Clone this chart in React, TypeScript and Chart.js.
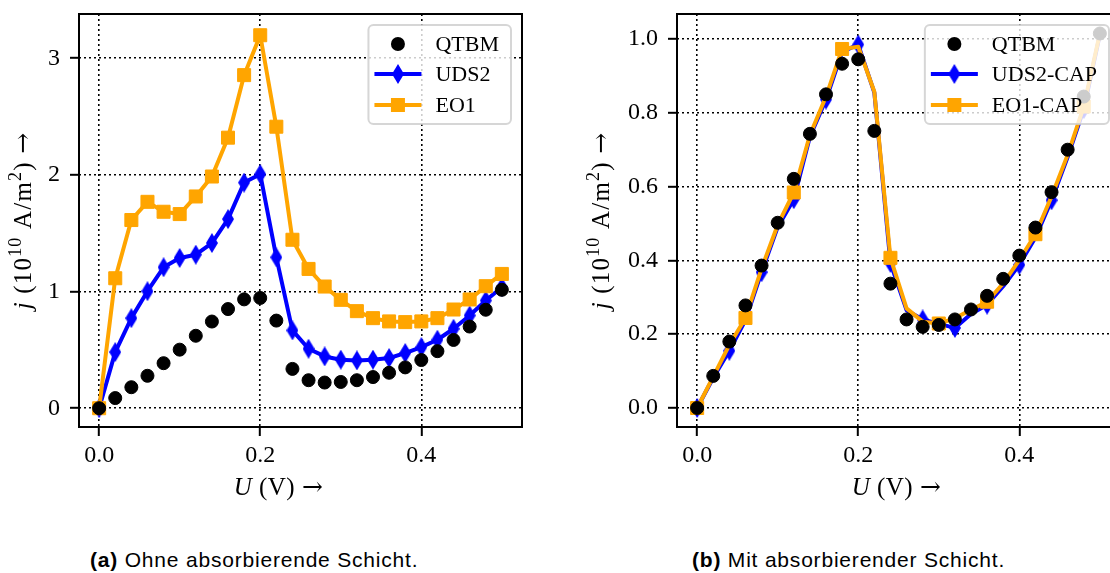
import React, { useEffect, useRef } from 'react';
import { Chart, registerables } from 'chart.js';

Chart.register(...registerables);

// Bias voltage U (V)
const U_V = [0.0, 0.02, 0.04, 0.06, 0.08, 0.1, 0.12, 0.14, 0.16, 0.18, 0.2, 0.22, 0.24, 0.26, 0.28, 0.3, 0.32, 0.34, 0.36, 0.38, 0.4, 0.42, 0.44, 0.46, 0.48, 0.5];

// Current density j (10^10 A/m^2)
const J_QTBM = [0.0, 0.087, 0.18, 0.278, 0.386, 0.502, 0.621, 0.743, 0.85, 0.933, 0.945, 0.751, 0.337, 0.24, 0.22, 0.225, 0.24, 0.267, 0.304, 0.35, 0.413, 0.489, 0.585, 0.7, 0.844, 1.015];
const J_UDS2 = [0.0, 0.481, 0.772, 1.003, 1.208, 1.288, 1.316, 1.416, 1.621, 1.934, 2.006, 1.293, 0.667, 0.51, 0.444, 0.416, 0.41, 0.416, 0.43, 0.473, 0.524, 0.587, 0.681, 0.795, 0.923, 1.037];
const J_EO1 = [0.0, 1.114, 1.613, 1.769, 1.684, 1.664, 1.815, 1.986, 2.319, 2.855, 3.197, 2.413, 1.444, 1.194, 1.043, 0.929, 0.832, 0.772, 0.744, 0.738, 0.744, 0.772, 0.846, 0.932, 1.046, 1.151];
const J_UDS2_CAP = [0.0, 0.082, 0.155, 0.238, 0.368, 0.49, 0.566, 0.735, 0.836, 0.965, 0.985, 0.855, 0.393, 0.265, 0.24, 0.228, 0.217, 0.255, 0.28, 0.33, 0.388, 0.462, 0.563, 0.68, 0.81, 1.012];
const J_EO1_CAP = [0.0, 0.085, 0.171, 0.244, 0.378, 0.496, 0.584, 0.74, 0.844, 0.973, 0.979, 0.857, 0.407, 0.27, 0.234, 0.229, 0.243, 0.266, 0.288, 0.338, 0.401, 0.471, 0.573, 0.686, 0.817, 1.015];

const UDS2_CAP_MARK_EVERY = 2;
const EO1_CAP_MARK_EVERY = 3;

const X_TICKS = [0.0, 0.2, 0.4];
const X_TICK_LABELS = ['0.0', '0.2', '0.4'];
const Y_TICKS_A = [0, 1, 2, 3];
const Y_TICK_LABELS_A = ['0', '1', '2', '3'];
const Y_TICKS_B = [0.0, 0.2, 0.4, 0.6, 0.8, 1.0];
const Y_TICK_LABELS_B = ['0.0', '0.2', '0.4', '0.6', '0.8', '1.0'];

const LEGEND_LABELS_A = ['QTBM', 'UDS2', 'EO1'];
const LEGEND_LABELS_B = ['QTBM', 'UDS2-CAP', 'EO1-CAP'];

type Seg = { t: string; italic?: boolean; sup?: boolean; arrow?: boolean };
const X_TITLE: Seg[] = [{ t: 'U', italic: true }, { t: ' (V) ' }, { t: '→', arrow: true }];
const Y_TITLE: Seg[] = [
  { t: 'j', italic: true },
  { t: ' (10' },
  { t: '10', sup: true },
  { t: ' A/m' },
  { t: '2', sup: true },
  { t: ') ' },
  { t: '→', arrow: true },
];

const CAPTION_A_TAG = '(a)';
const CAPTION_A_TEXT = 'Ohne absorbierende Schicht.';
const CAPTION_B_TAG = '(b)';
const CAPTION_B_TEXT = 'Mit absorbierender Schicht.';

const BLUE = '#0000ff';
const ORANGE = '#ffa500';
const BLACK = '#000000';
const SERIF = '"Liberation Serif", "Times New Roman", serif';
const ARROW_FONT = '"DejaVu Serif", serif';
const SANS = '"Liberation Sans", Arial, sans-serif';

type Marker = 'circle' | 'diamond' | 'square';
type LegendEntry = { label: string; color: string; marker: Marker; line: boolean };

function makeDiamond(color: string) {
  const c = document.createElement('canvas');
  c.width = 12;
  c.height = 20;
  const g = c.getContext('2d')!;
  g.fillStyle = color;
  g.beginPath();
  g.moveTo(6, 0);
  g.lineTo(12, 10);
  g.lineTo(6, 20);
  g.lineTo(0, 10);
  g.closePath();
  g.fill();
  return c;
}

function drawMarker(ctx: CanvasRenderingContext2D, m: Marker, x: number, y: number, color: string, diamond: HTMLCanvasElement) {
  ctx.fillStyle = color;
  if (m === 'circle') {
    ctx.beginPath();
    ctx.arc(x, y, 7, 0, Math.PI * 2);
    ctx.fill();
  } else if (m === 'square') {
    ctx.fillRect(x - 7, y - 7, 14, 14);
  } else {
    ctx.drawImage(diamond, x - diamond.width / 2, y - diamond.height / 2);
  }
}

function segFont(s: Seg, size: number) {
  if (s.arrow) return `${size}px ${ARROW_FONT}`;
  const px = s.sup ? Math.round(size * 0.7) : size;
  return `${s.italic ? 'italic ' : ''}${px}px ${SERIF}`;
}

function setSpacing(ctx: CanvasRenderingContext2D, px: number) {
  (ctx as any).letterSpacing = `${px}px`;
}

function richWidth(ctx: CanvasRenderingContext2D, segs: Seg[], size: number, spacing: number) {
  let w = 0;
  setSpacing(ctx, spacing);
  for (const s of segs) {
    ctx.font = segFont(s, size);
    w += ctx.measureText(s.t).width;
  }
  return w;
}

function drawRich(ctx: CanvasRenderingContext2D, segs: Seg[], cx: number, baseline: number, size: number, spacing: number) {
  const total = richWidth(ctx, segs, size, spacing);
  let x = cx - total / 2;
  ctx.textBaseline = 'alphabetic';
  ctx.textAlign = 'left';
  setSpacing(ctx, spacing);
  for (const s of segs) {
    ctx.font = segFont(s, size);
    ctx.fillText(s.t, x, baseline - (s.sup ? size * 0.4 : 0));
    x += ctx.measureText(s.t).width;
  }
  setSpacing(ctx, 0);
}

function roundRect(ctx: CanvasRenderingContext2D, x: number, y: number, w: number, h: number, r: number) {
  ctx.beginPath();
  ctx.moveTo(x + r, y);
  ctx.lineTo(x + w - r, y);
  ctx.arcTo(x + w, y, x + w, y + r, r);
  ctx.lineTo(x + w, y + h - r);
  ctx.arcTo(x + w, y + h, x + w - r, y + h, r);
  ctx.lineTo(x + r, y + h);
  ctx.arcTo(x, y + h, x, y + h - r, r);
  ctx.lineTo(x, y + r);
  ctx.arcTo(x, y, x + r, y, r);
  ctx.closePath();
}

type Area = { left: number; top: number; right: number; bottom: number };
type PanelSpec = {
  left: number;
  width: number;
  height: number;
  area: Area;
  xRange: [number, number];
  yRange: [number, number];
  yTicks: number[];
  yTickLabels: string[];
  legend: LegendEntry[];
  xTitleShift: number;
  yTitleBaseline: number;
  datasets: (diamond: HTMLCanvasElement) => any[];
};

const pts = (ys: number[]) => U_V.map((u, i) => ({ x: u, y: ys[i] }));

const qtbmSet = (ys: number[]) => ({
  label: 'QTBM',
  data: pts(ys),
  showLine: false,
  pointStyle: 'circle',
  pointRadius: 6.5,
  pointBorderWidth: 1,
  pointBackgroundColor: BLACK,
  pointBorderColor: BLACK,
  borderColor: BLACK,
});

const lineSet = (label: string, ys: number[], color: string, style: any, radius: number, every: number) => ({
  label,
  data: pts(ys),
  borderColor: color,
  backgroundColor: color,
  borderWidth: 4,
  borderJoinStyle: 'round',
  tension: 0,
  fill: false,
  pointStyle: style,
  pointRadius: (c: any) => (c.dataIndex % every === 0 ? radius : 0),
  pointBorderWidth: 1,
  pointBackgroundColor: color,
  pointBorderColor: color,
});

const PANEL_A: PanelSpec = {
  left: 0,
  width: 560,
  height: 520,
  area: { left: 79, top: 14, right: 522, bottom: 427 },
  xRange: [-0.025, 0.525],
  yRange: [-0.161, 3.379],
  yTicks: Y_TICKS_A,
  yTickLabels: Y_TICK_LABELS_A,
  legend: [
    { label: LEGEND_LABELS_A[0], color: BLACK, marker: 'circle', line: false },
    { label: LEGEND_LABELS_A[1], color: BLUE, marker: 'diamond', line: true },
    { label: LEGEND_LABELS_A[2], color: ORANGE, marker: 'square', line: true },
  ],
  xTitleShift: -22,
  yTitleBaseline: 31,
  datasets: (d) => [
    qtbmSet(J_QTBM),
    lineSet(LEGEND_LABELS_A[2], J_EO1, ORANGE, 'rect', 9.2, 1),
    lineSet(LEGEND_LABELS_A[1], J_UDS2, BLUE, d, 10, 1),
  ],
};

const PANEL_B: PanelSpec = {
  left: 560,
  width: 580,
  height: 520,
  area: { left: 117, top: 14, right: 560, bottom: 427 },
  xRange: [-0.025, 0.525],
  yRange: [-0.0515, 1.0678],
  yTicks: Y_TICKS_B,
  yTickLabels: Y_TICK_LABELS_B,
  legend: [
    { label: LEGEND_LABELS_B[0], color: BLACK, marker: 'circle', line: false },
    { label: LEGEND_LABELS_B[1], color: BLUE, marker: 'diamond', line: true },
    { label: LEGEND_LABELS_B[2], color: ORANGE, marker: 'square', line: true },
  ],
  xTitleShift: -2,
  yTitleBaseline: 49,
  datasets: (d) => [
    qtbmSet(J_QTBM),
    lineSet(LEGEND_LABELS_B[2], J_EO1_CAP, ORANGE, 'rect', 9.2, EO1_CAP_MARK_EVERY),
    lineSet(LEGEND_LABELS_B[1], J_UDS2_CAP, BLUE, d, 10, UDS2_CAP_MARK_EVERY),
  ],
};

function decorations(spec: PanelSpec, diamond: HTMLCanvasElement) {
  return {
    id: 'panelDecor',
    afterDraw(chart: any) {
      const ctx: CanvasRenderingContext2D = chart.ctx;
      const a = chart.chartArea;
      ctx.save();

      // axes frame
      ctx.strokeStyle = BLACK;
      ctx.lineWidth = 2;
      ctx.strokeRect(a.left, a.top, a.right - a.left, a.bottom - a.top);

      // legend box, semi-transparent over the data
      const legendFont = 22;
      ctx.font = `${legendFont}px ${SERIF}`;
      let maxText = 0;
      for (const e of spec.legend) maxText = Math.max(maxText, ctx.measureText(e.label).width);
      const boxW = 67 + maxText + 12;
      const boxH = 99;
      const boxX = a.right - 11 - boxW;
      const boxY = a.top + 11;
      roundRect(ctx, boxX, boxY, boxW, boxH, 5);
      ctx.fillStyle = 'rgba(255,255,255,0.8)';
      ctx.fill();
      ctx.lineWidth = 2;
      ctx.strokeStyle = 'rgba(204,204,204,0.8)';
      ctx.stroke();
      const rows = [19, 49, 80];
      spec.legend.forEach((e, i) => {
        const y = boxY + rows[i];
        if (e.line) {
          ctx.strokeStyle = e.color;
          ctx.lineWidth = 4;
          ctx.beginPath();
          ctx.moveTo(boxX + 6, y);
          ctx.lineTo(boxX + 53, y);
          ctx.stroke();
        }
        drawMarker(ctx, e.marker, boxX + 29.5, y, e.color, diamond);
        ctx.fillStyle = BLACK;
        ctx.font = `${legendFont}px ${SERIF}`;
        ctx.textAlign = 'left';
        ctx.textBaseline = 'middle';
        ctx.fillText(e.label, boxX + 67, y + 1);
      });

      // axis titles
      ctx.fillStyle = BLACK;
      const titleSize = 25;
      drawRich(ctx, X_TITLE, (a.left + a.right) / 2 + spec.xTitleShift, 495, titleSize, 0.5);
      ctx.save();
      ctx.translate(spec.yTitleBaseline, (a.top + a.bottom) / 2);
      ctx.rotate(-Math.PI / 2);
      drawRich(ctx, Y_TITLE, 0, 0, titleSize, 1.2);
      ctx.restore();

      ctx.restore();
    },
  };
}

function Panel({ spec }: { spec: PanelSpec }) {
  const ref = useRef<HTMLCanvasElement>(null);
  useEffect(() => {
    const canvas = ref.current!;
    const diamond = makeDiamond(BLUE);
    const a = spec.area;
    const tickFont = { family: SERIF, size: 24 };
    const gridCommon = {
      color: BLACK,
      lineWidth: 1.6,
      tickLength: 9,
      tickWidth: 2,
      tickColor: BLACK,
    };
    const border = { display: false, dash: [2, 3] };
    const chart = new Chart(canvas, {
      type: 'line',
      data: { datasets: spec.datasets(diamond) },
      plugins: [decorations(spec, diamond)],
      options: {
        animation: false,
        responsive: false,
        devicePixelRatio: 1,
        events: [],
        layout: { padding: { left: 0, top: a.top, right: spec.width - a.right, bottom: 0 } },
        plugins: { legend: { display: false }, tooltip: { enabled: false } },
        scales: {
          x: {
            type: 'linear',
            min: spec.xRange[0],
            max: spec.xRange[1],
            afterBuildTicks: (s: any) => {
              s.ticks = X_TICKS.map((v) => ({ value: v }));
            },
            afterFit: (s: any) => {
              s.height = spec.height - a.bottom;
              s.paddingLeft = 0;
              s.paddingRight = 0;
            },
            ticks: {
              font: tickFont,
              color: BLACK,
              padding: 5,
              maxRotation: 0,
              autoSkip: false,
              callback: (_v: any, i: number) => X_TICK_LABELS[i],
            },
            grid: gridCommon,
            border,
          },
          y: {
            type: 'linear',
            min: spec.yRange[0],
            max: spec.yRange[1],
            afterBuildTicks: (s: any) => {
              s.ticks = spec.yTicks.map((v) => ({ value: v }));
            },
            afterFit: (s: any) => {
              s.width = a.left;
              s.paddingTop = 0;
              s.paddingBottom = 0;
            },
            ticks: {
              font: tickFont,
              color: BLACK,
              padding: 10,
              autoSkip: false,
              callback: (_v: any, i: number) => spec.yTickLabels[i],
            },
            grid: gridCommon,
            border,
          },
        },
      } as any,
    });
    return () => chart.destroy();
  }, [spec]);
  return (
    <canvas
      ref={ref}
      width={spec.width}
      height={spec.height}
      style={{ position: 'absolute', left: spec.left, top: 0, width: spec.width, height: spec.height }}
    />
  );
}

const captionStyle: React.CSSProperties = {
  position: 'absolute',
  top: 547,
  fontFamily: SANS,
  fontSize: 21,
  lineHeight: '26px',
  whiteSpace: 'nowrap',
  color: BLACK,
  letterSpacing: 0.8,
};

export default function App() {
  return (
    <div
      style={{
        position: 'absolute',
        left: 0,
        top: 0,
        width: 1110,
        height: 573,
        overflow: 'hidden',
        background: '#ffffff',
      }}
    >
      <Panel spec={PANEL_A} />
      <Panel spec={PANEL_B} />
      <div style={{ ...captionStyle, left: 90 }}>
        <b>{CAPTION_A_TAG}</b> {CAPTION_A_TEXT}
      </div>
      <div style={{ ...captionStyle, left: 692 }}>
        <b>{CAPTION_B_TAG}</b> {CAPTION_B_TEXT}
      </div>
    </div>
  );
}
